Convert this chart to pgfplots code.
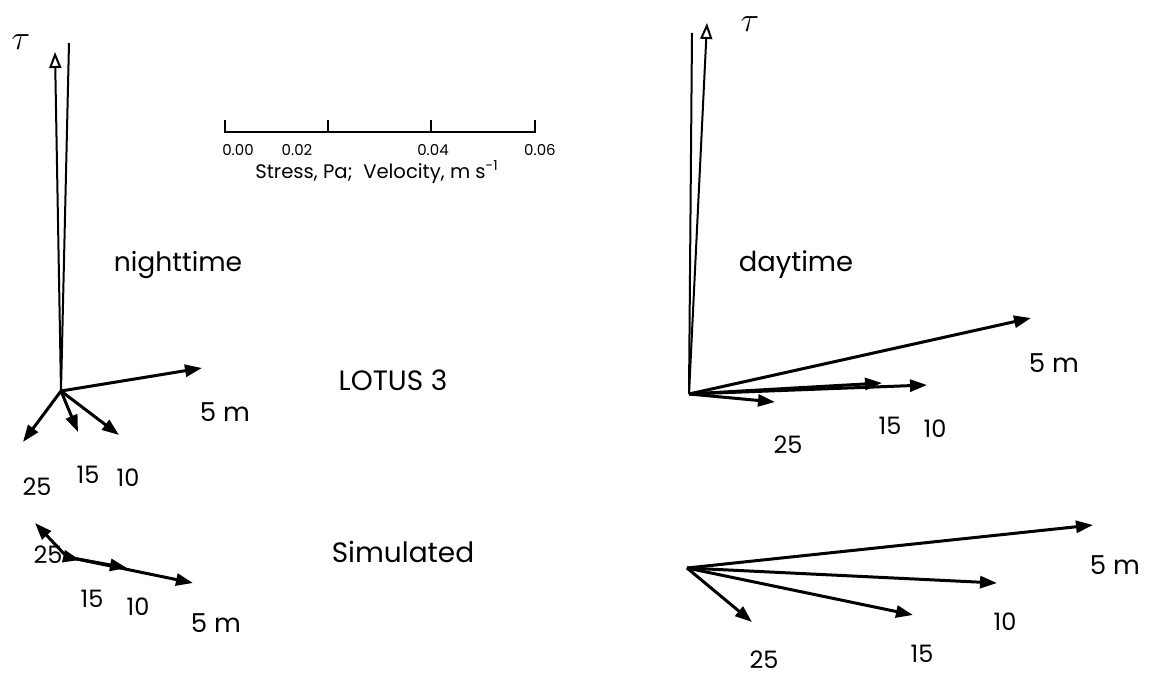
\documentclass[border=0pt]{standalone}
\usepackage{pgfplots}
\pgfplotsset{compat=1.18}
\usepackage{pgfplotstable}
\usetikzlibrary{arrows.meta}
\usepackage{fontspec}
\setmainfont{Poppins}

% vectors: origin (x,y) and components (u,v), in picture units
\pgfplotstableread{
x y u v
61 285 141 23
61 285 58 -44
61 285 17 -41
61 285 -38 -51
}\nightobs
\pgfplotstableread{
x y u v
689 282 342 76
689 282 238 9
689 282 193 11
689 282 86 -8
}\dayobs
\pgfplotstableread{
x y u v
67 119 126 -26
67 119 60 -11
67 119 13 -3
67 119 -32 34
}\nightsim
\pgfplotstableread{
x y u v
687 108 406 43
687 108 310 -15
687 108 226 -47
687 108 65 -54
}\daysim
\pgfplotstableread{
x y u v
61 285 -6 339
689 282 18 371
}\taus

\begin{document}
\begin{tikzpicture}
\begin{axis}[
  name=ax,
  x=0.5pt, y=0.5pt,
  xmin=0, xmax=1152, ymin=0, ymax=676,
  enlargelimits=false,
  hide axis, clip=false,
]
% vectors
\addplot[black, line width=1.5pt, -{Triangle[length=8.5pt,width=6pt]},
  quiver={u=\thisrow{u}, v=\thisrow{v}}] table {\nightobs};
\addplot[black, line width=1.5pt, -{Triangle[length=8.5pt,width=6pt]},
  quiver={u=\thisrow{u}, v=\thisrow{v}}] table {\dayobs};
\addplot[black, line width=1.5pt, -{Triangle[length=8.5pt,width=6pt]},
  quiver={u=\thisrow{u}, v=\thisrow{v}}] table {\nightsim};
\addplot[black, line width=1.5pt, -{Triangle[length=8.5pt,width=6pt]},
  quiver={u=\thisrow{u}, v=\thisrow{v}}] table {\daysim};
\addplot[black, line width=1pt, -{Triangle[open,length=8pt,width=6pt]},
  quiver={u=\thisrow{u}, v=\thisrow{v}}] table {\taus};
% reference lines
\addplot[black, line width=1pt] coordinates {(61,285) (69,633)};
\addplot[black, line width=1pt] coordinates {(689,282) (692,643)};
% scale bar
\addplot[black, line width=0.8pt] coordinates {(225,556) (225,544) (535,544) (535,556)};
\addplot[black, line width=0.8pt] coordinates {(328,544) (328,556)};
\addplot[black, line width=0.8pt] coordinates {(431,544) (431,556)};
\node[font=\fontsize{7.5}{8}\selectfont, inner sep=1pt] at (238,526) {0.00};
\node[font=\fontsize{7.5}{8}\selectfont, inner sep=1pt] at (297,526) {0.02};
\node[font=\fontsize{7.5}{8}\selectfont, inner sep=1pt] at (433,526) {0.04};
\node[font=\fontsize{7.5}{8}\selectfont, inner sep=1pt] at (540,526) {0.06};
\node[font=\fontsize{9.8}{11}\selectfont, inner sep=1pt] at (377,504) {Stress, Pa;\ \ Velocity, m s\textsuperscript{-1}};
% titles
\node[font=\fontsize{13.3}{16}\selectfont] at (178,411) {nighttime};
\node[font=\fontsize{13.7}{16}\selectfont] at (796,411) {daytime};
\node[font=\fontsize{14}{16}\selectfont] at (393,296) {LOTUS 3};
\node[font=\fontsize{14}{16}\selectfont] at (403,124) {Simulated};
\node[font=\fontsize{18}{20}\selectfont, inner sep=0pt] at (21,634) {$\tau$};
\node[font=\fontsize{18}{20}\selectfont, inner sep=0pt] at (750,652) {$\tau$};
% labels nighttime LOTUS
\node[font=\fontsize{13}{14}\selectfont] at (225,264) {5 m};
\node[font=\fontsize{12}{14}\selectfont] at (37,189) {25};
\node[font=\fontsize{12}{14}\selectfont] at (88,201) {15};
\node[font=\fontsize{12}{14}\selectfont] at (128,198) {10};
% labels daytime LOTUS
\node[font=\fontsize{13}{14}\selectfont] at (1054,313) {5 m};
\node[font=\fontsize{12}{14}\selectfont] at (890,250) {15};
\node[font=\fontsize{12}{14}\selectfont] at (935,247) {10};
\node[font=\fontsize{12}{14}\selectfont] at (788,231) {25};
% labels nighttime simulated
\node[font=\fontsize{12}{14}\selectfont] at (48,121) {25};
\node[font=\fontsize{12}{14}\selectfont] at (92,77) {15};
\node[font=\fontsize{12}{14}\selectfont] at (138,69) {10};
\node[font=\fontsize{13}{14}\selectfont] at (216,53) {5 m};
% labels daytime simulated
\node[font=\fontsize{13}{14}\selectfont] at (1115,111) {5 m};
\node[font=\fontsize{12}{14}\selectfont] at (1005,54) {10};
\node[font=\fontsize{12}{14}\selectfont] at (922,22) {15};
\node[font=\fontsize{12}{14}\selectfont] at (764,16) {25};
\end{axis}
\pgfresetboundingbox
\path[use as bounding box] (ax.south west) rectangle (ax.north east);
\end{tikzpicture}
\end{document}
